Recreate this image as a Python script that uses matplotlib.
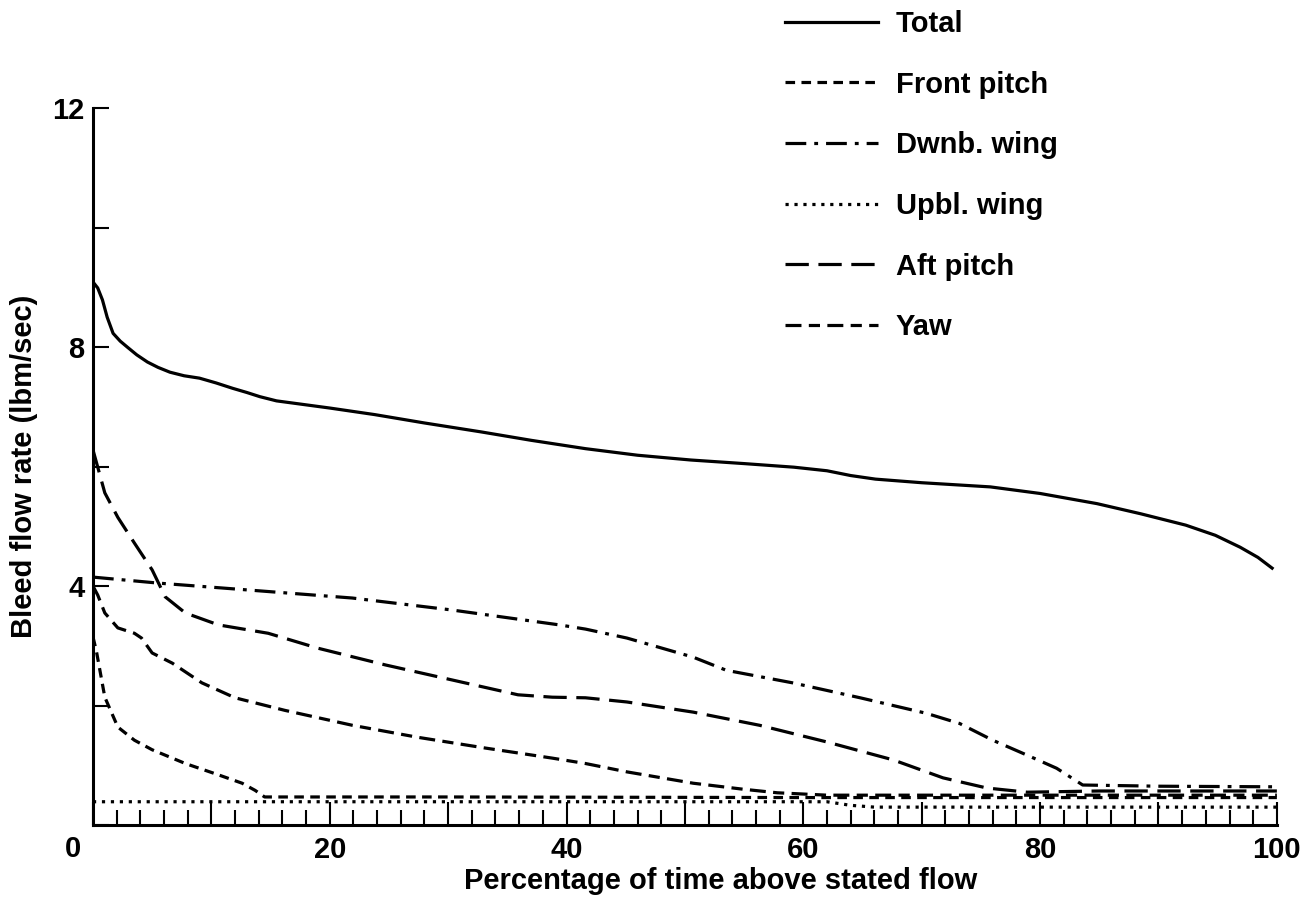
import matplotlib
matplotlib.use("Agg")
import matplotlib.pyplot as plt
from matplotlib.ticker import MultipleLocator

plt.rcParams['font.family'] = ['Liberation Sans', 'DejaVu Sans']
plt.rcParams['font.weight'] = 'bold'
plt.rcParams['axes.labelweight'] = 'bold'

# bleed flow duration curves, percent of time vs lbm/sec
total_x = [0, 0.4, 0.8, 1.2, 1.7, 2.3, 2.9, 3.7, 4.6, 5.5, 6.5, 7.7, 9.0, 10.4, 11.8, 13.0, 14.1, 15.5,
           17, 20, 23.8, 28, 32.8, 37, 41.6, 46, 50.5, 55, 59.2, 62, 64, 66.1, 70, 75.8, 80, 84.8,
           88.5, 92.3, 94.8, 96.9, 98.4, 99.6]
total_y = [9.09, 8.99, 8.79, 8.50, 8.23, 8.10, 8.00, 7.87, 7.75, 7.66, 7.58, 7.52, 7.48, 7.40, 7.31, 7.24,
           7.17, 7.10, 7.06, 6.98, 6.87, 6.73, 6.58, 6.44, 6.30, 6.19, 6.11, 6.05, 5.99, 5.93, 5.85, 5.79,
           5.73, 5.66, 5.55, 5.38, 5.21, 5.02, 4.85, 4.65, 4.48, 4.30]

front_x = [0, 0.3, 1.0, 2.1, 3.5, 5.0, 7.8, 10.6, 12.6, 13.7, 14.5, 30, 60, 80, 100]
front_y = [3.15, 2.9, 2.14, 1.64, 1.42, 1.26, 1.03, 0.84, 0.70, 0.58, 0.47, 0.47, 0.46, 0.46, 0.46]

dwnb_x = [0, 5.5, 13.4, 21.9, 30.3, 39.4, 41.6, 45.1, 50.7, 53.5, 59.1, 64.8, 70.4, 73.2,
          76, 78.9, 81.4, 83.6, 90, 100]
dwnb_y = [4.15, 4.05, 3.93, 3.80, 3.60, 3.35, 3.28, 3.13, 2.81, 2.59, 2.38, 2.13, 1.87, 1.70,
          1.42, 1.17, 0.95, 0.67, 0.65, 0.64]

upbl_x = [0, 62, 64, 66, 100]
upbl_y = [0.39, 0.39, 0.33, 0.30, 0.30]

aft_x = [0, 1.0, 2.1, 3.5, 5.0, 6.1, 7.8, 10.6, 14.8, 19.0, 24.7, 30.3, 35.9, 38.8, 41.6,
         45.1, 50.7, 56.3, 62, 67.6, 71.8, 75.5, 78.9, 85, 100]
aft_y = [6.28, 5.56, 5.15, 4.72, 4.27, 3.82, 3.55, 3.35, 3.21, 2.96, 2.68, 2.43, 2.18, 2.14, 2.13,
         2.06, 1.89, 1.67, 1.39, 1.09, 0.79, 0.62, 0.55, 0.57, 0.57]

yaw_x = [0, 0.4, 1.0, 2.1, 3.5, 4.1, 5.0, 6.7, 9.2, 12, 16.2, 21.9, 27.4, 33.1, 38.8, 41.6,
         45.1, 50.7, 54.9, 57.8, 62, 80, 100]
yaw_y = [4.0, 3.85, 3.55, 3.30, 3.21, 3.13, 2.88, 2.71, 2.38, 2.13, 1.92, 1.67, 1.47, 1.29, 1.12, 1.03,
         0.89, 0.70, 0.60, 0.54, 0.50, 0.50, 0.50]

fig = plt.figure(figsize=(13.15, 9.01), dpi=100)
ax = fig.add_axes([0.0707, 0.0843, 0.9003, 0.7957])

lw = 2.3
ax.plot(total_x, total_y, color='black', lw=lw, ls='-', label='Total')
ax.plot(front_x, front_y, color='black', lw=lw, ls=(0, (3, 2)), label='Front pitch')
ax.plot(dwnb_x, dwnb_y, color='black', lw=lw, ls=(0, (6.5, 2.5, 1.2, 2.5)), label='Dwnb. wing')
ax.plot(upbl_x, upbl_y, color='black', lw=lw, ls=(0, (1, 1.8)), label='Upbl. wing')
ax.plot(aft_x, aft_y, color='black', lw=lw, ls=(0, (7.3, 3)), label='Aft pitch')
ax.plot(yaw_x, yaw_y, color='black', lw=lw, ls=(0, (5, 2.3, 3.5, 2.3)), label='Yaw')

ax.set_xlim(0, 100)
ax.set_ylim(0, 12)
for s in ['top', 'right']:
    ax.spines[s].set_visible(False)
for s in ['left', 'bottom']:
    ax.spines[s].set_linewidth(2.2)

fs = 21
ax.xaxis.set_major_locator(MultipleLocator(10))
ax.xaxis.set_minor_locator(MultipleLocator(2))
ax.set_xticklabels(['' if v % 20 or v == 0 else str(int(v)) for v in ax.get_xticks()])
ax.tick_params(axis='x', which='major', direction='in', length=16.5, width=1.5, labelsize=fs, pad=8)
ax.tick_params(axis='x', which='minor', direction='in', length=10.8, width=1.5)

ax.set_yticks([0, 2, 4, 6, 8, 10, 12])
ax.set_yticklabels(['', '', '4', '', '8', '', '12'])
ax.tick_params(axis='y', direction='in', length=11.5, width=1.5, labelsize=fs, pad=6)
ax.text(-1.7, -0.4, '0', fontsize=fs, ha='center', va='center', clip_on=False)

ax.set_xlabel('Percentage of time above stated flow', fontsize=fs, labelpad=0)
ax.xaxis.set_label_coords(0.53, -0.058)
ax.set_ylabel('Bleed flow rate (lbm/sec)', fontsize=fs, labelpad=10)

ax.legend(loc='upper left', bbox_to_anchor=(0.577, 1.018), bbox_transform=fig.transFigure,
          frameon=False, fontsize=fs, handlelength=3.2, handletextpad=0.6, labelspacing=1.12)

fig.savefig('out.png', dpi=100)
